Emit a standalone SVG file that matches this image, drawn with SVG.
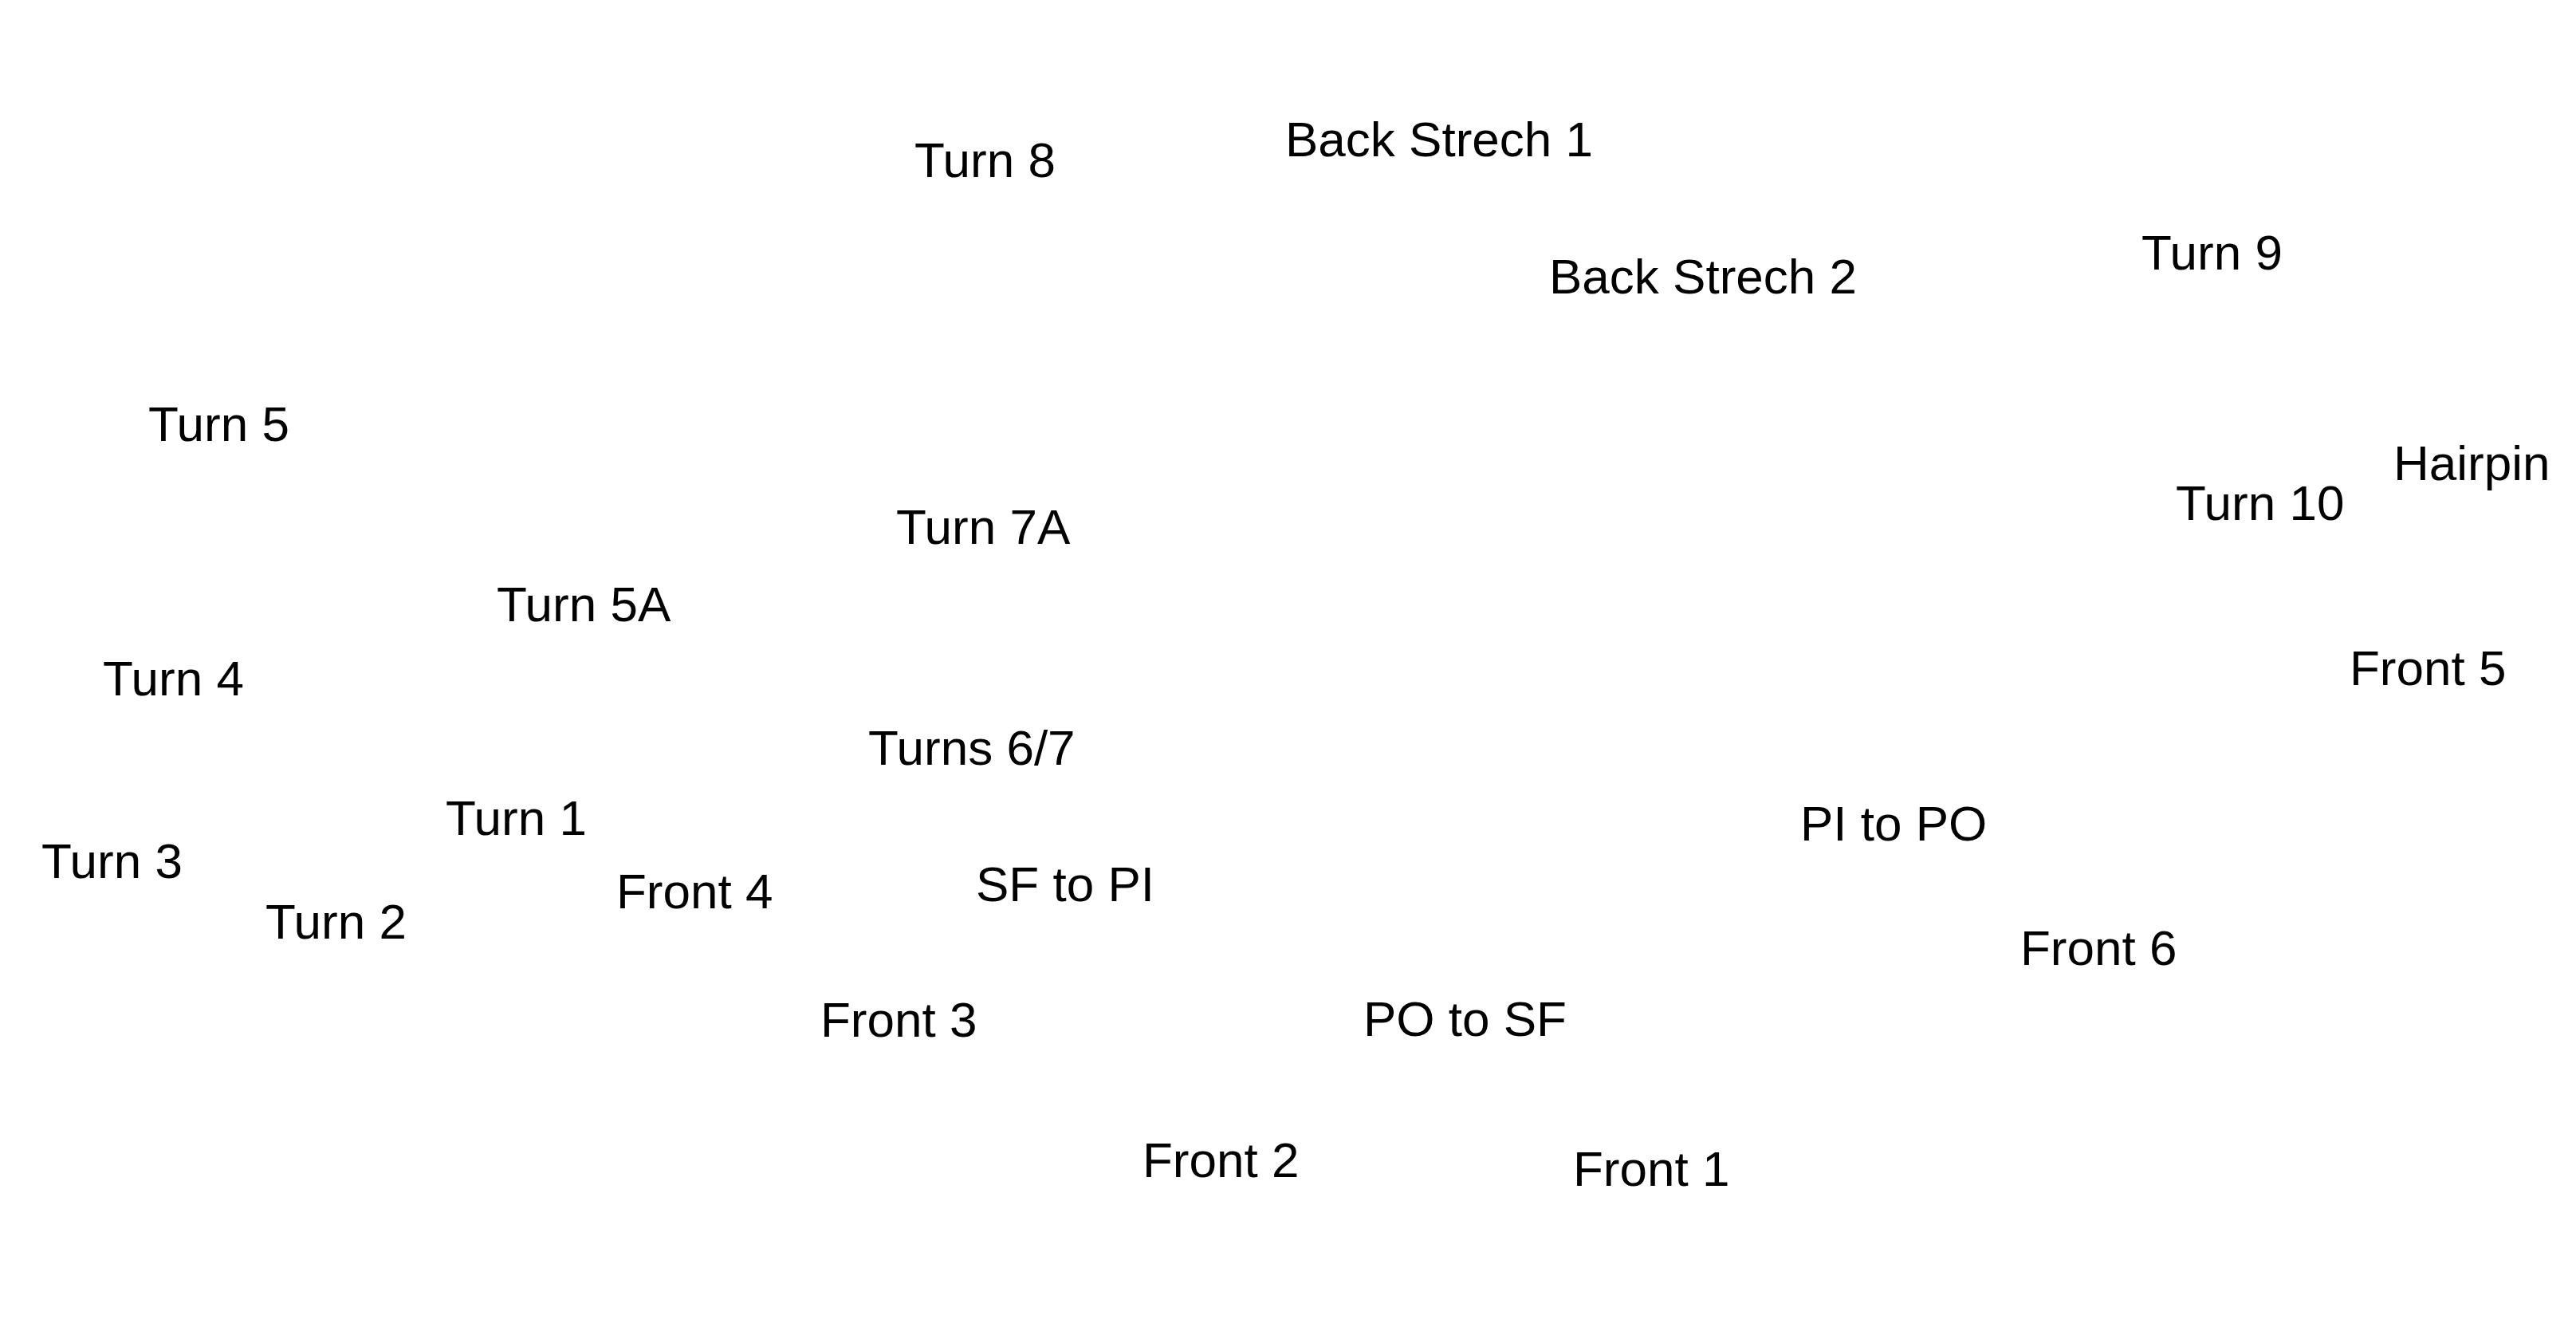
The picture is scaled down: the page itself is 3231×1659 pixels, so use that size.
<svg xmlns="http://www.w3.org/2000/svg" width="3231" height="1659" viewBox="0 0 3231 1659">
<style>
text { font-family: "Liberation Sans", Arial, sans-serif; font-size: 62px; fill: #000; }
</style>
<rect width="3231" height="1659" fill="#fff"/>
<g id="connectors"></g>
<g id="n-turn8"><text x="1147" y="222">Turn 8</text></g>
<g id="n-back1"><text x="1612" y="196">Back Strech 1</text></g>
<g id="n-back2"><text x="1943" y="368">Back Strech 2</text></g>
<g id="n-turn9"><text x="2686" y="338">Turn 9</text></g>
<g id="n-turn5"><text x="186" y="553">Turn 5</text></g>
<g id="n-hairpin"><text x="3002" y="602">Hairpin</text></g>
<g id="n-turn10"><text x="2729" y="652">Turn 10</text></g>
<g id="n-turn7a"><text x="1124" y="682">Turn 7A</text></g>
<g id="n-turn5a"><text x="623" y="779">Turn 5A</text></g>
<g id="n-turn4"><text x="129" y="872">Turn 4</text></g>
<g id="n-front5"><text x="2947" y="859">Front 5</text></g>
<g id="n-turns67"><text x="1089" y="959">Turns 6/7</text></g>
<g id="n-turn1"><text x="559" y="1047">Turn 1</text></g>
<g id="n-pitopo"><text x="2258" y="1054">PI to PO</text></g>
<g id="n-turn3"><text x="52" y="1101">Turn 3</text></g>
<g id="n-front4"><text x="773" y="1139">Front 4</text></g>
<g id="n-sftopi"><text x="1224" y="1130">SF to PI</text></g>
<g id="n-turn2"><text x="333" y="1177">Turn 2</text></g>
<g id="n-front6"><text x="2534" y="1210">Front 6</text></g>
<g id="n-front3"><text x="1029" y="1300">Front 3</text></g>
<g id="n-potosf"><text x="1710" y="1299">PO to SF</text></g>
<g id="n-front2"><text x="1433" y="1476">Front 2</text></g>
<g id="n-front1"><text x="1973" y="1487">Front 1</text></g>
</svg>
